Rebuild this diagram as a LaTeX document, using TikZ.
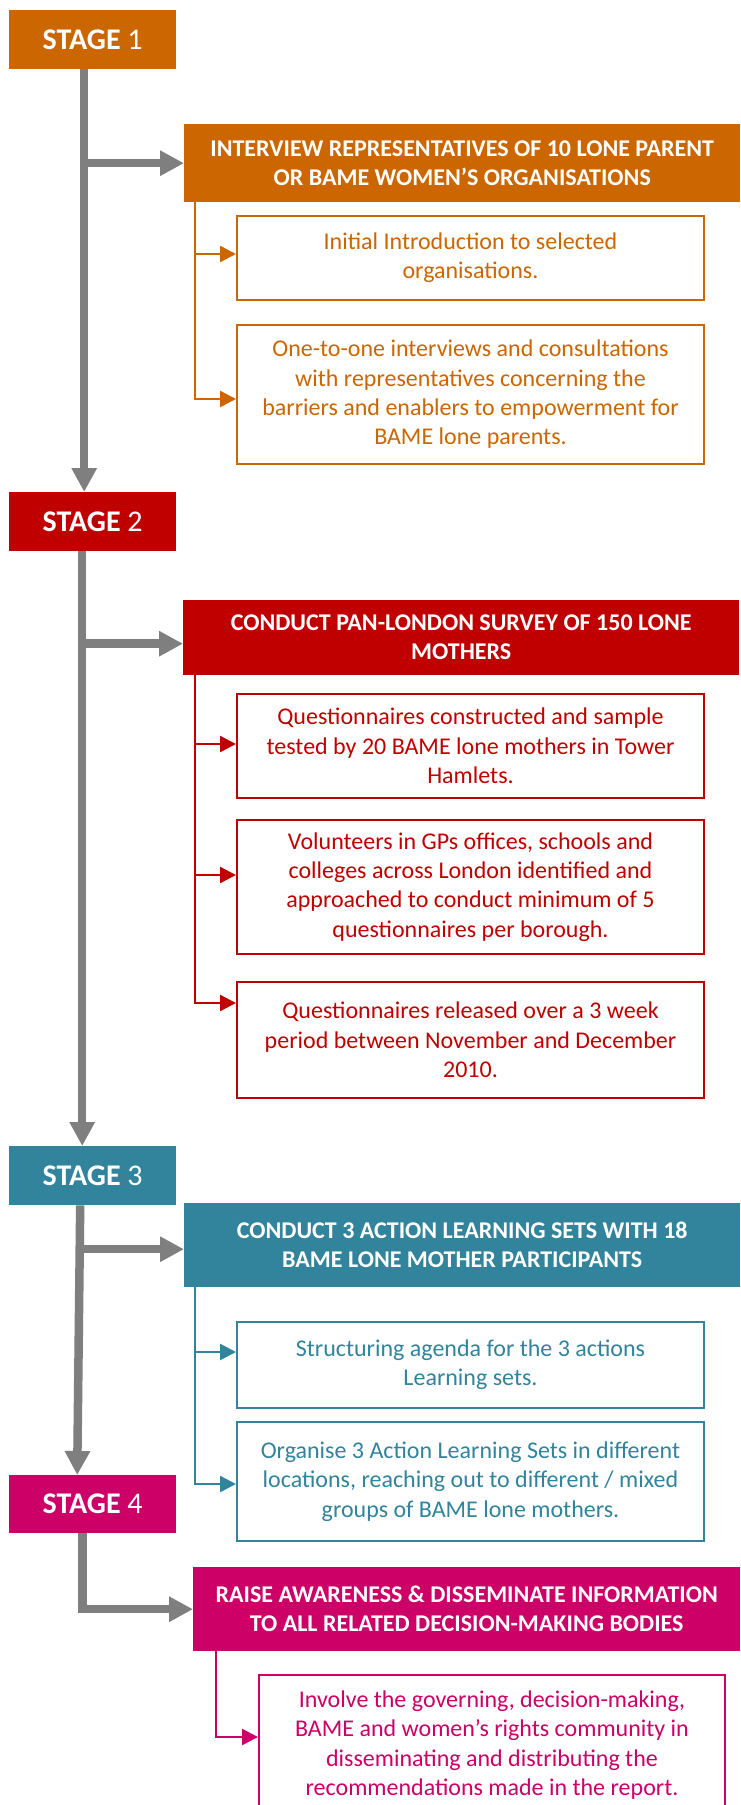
\documentclass[tikz,border=0pt]{standalone}
\usepackage{fontspec}
\setmainfont{Carlito}
\usepackage{xcolor}
\usepackage{tikz}
\usetikzlibrary{arrows.meta}

\definecolor{orangeS}{HTML}{CC6600}
\definecolor{redS}{HTML}{C00000}
\definecolor{tealS}{HTML}{31849B}
\definecolor{pinkS}{HTML}{CC0066}
\definecolor{grayS}{HTML}{7F7F7F}

\newcommand{\stagefont}{\fontsize{30}{35}\selectfont}
\newcommand{\headfont}{\fontsize{24}{29}\selectfont\bfseries}
\newcommand{\boxfont}{\fontsize{24}{29.3}\selectfont}

\begin{document}
\begin{tikzpicture}[x=1pt,y=-1pt,
  stagebox/.style={fill=#1,text=white,anchor=north west,inner sep=0pt,minimum width=167pt,minimum height=59pt,font=\stagefont},
  headbox/.style={fill=#1,text=white,anchor=north west,inner sep=0pt,minimum width=556pt,align=center,font=\headfont},
  textbox/.style={draw=#1,line width=2pt,text=#1,anchor=north west,inner sep=0pt,minimum width=467pt,align=center,font=\boxfont},
  trunk/.style={draw=grayS,line width=8.5pt,-{Triangle[length=24pt,width=24pt]}},
  feed/.style={draw=#1,line width=2.5pt,-{Triangle[length=16pt,width=16pt]}}]
  \path[use as bounding box,fill=white] (0,0) rectangle (740,1805);

  % Stage 1
  \node[stagebox=orangeS] (st1) at (9,10) {\textbf{STAGE} 1};
  \node[headbox=orangeS,minimum height=78pt] (hd1) at (184,124) {INTERVIEW REPRESENTATIVES OF 10 LONE PARENT\\OR BAME WOMEN’S ORGANISATIONS};
  \node[textbox=orangeS,minimum height=84pt] (b1a) at (236,215) {Initial Introduction to selected\\organisations.};
  \node[textbox=orangeS,minimum height=139pt] (b1b) at (236,324) {One-to-one interviews and consultations\\with representatives concerning the\\barriers and enablers to empowerment for\\BAME lone parents.};

  % Stage 2
  \node[stagebox=redS] (st2) at (9,492) {\textbf{STAGE} 2};
  \node[headbox=redS,minimum height=75pt] (hd2) at (183,600) {CONDUCT PAN-LONDON SURVEY OF 150 LONE\\MOTHERS};
  \node[textbox=redS,minimum height=104pt] (b2a) at (236,693) {Questionnaires constructed and sample\\tested by 20 BAME lone mothers in Tower\\Hamlets.};
  \node[textbox=redS,minimum height=134pt] (b2b) at (236,819) {Volunteers in GPs offices, schools and\\colleges across London identified and\\approached to conduct minimum of 5\\questionnaires per borough.};
  \node[textbox=redS,minimum height=116pt] (b2c) at (236,981) {Questionnaires released over a 3 week\\period between November and December\\2010.};

  % Stage 3
  \node[stagebox=tealS] (st3) at (9,1146) {\textbf{STAGE} 3};
  \node[headbox=tealS,minimum height=84pt] (hd3) at (184,1203) {CONDUCT 3 ACTION LEARNING SETS WITH 18\\BAME LONE MOTHER PARTICIPANTS};
  \node[textbox=tealS,minimum height=86pt] (b3a) at (236,1321) {Structuring agenda for the 3 actions\\Learning sets.};
  \node[textbox=tealS,minimum height=119pt] (b3b) at (236,1421) {Organise 3 Action Learning Sets in different\\locations, reaching out to different / mixed\\groups of BAME lone mothers.};

  % Stage 4
  \node[stagebox=pinkS,minimum height=58pt] (st4) at (9,1475) {\textbf{STAGE} 4};
  \node[headbox=pinkS,minimum width=547pt,minimum height=84pt] (hd4) at (193,1567) {RAISE AWARENESS \& DISSEMINATE INFORMATION\\TO ALL RELATED DECISION-MAKING BODIES};
  \node[textbox=pinkS,minimum width=466pt,minimum height=140pt] (b4) at (258,1674) {Involve the governing, decision-making,\\BAME and women’s rights community in\\disseminating and distributing the\\recommendations made in the report.};

  % Main line
  \coordinate (t1) at ([xshift=-8.5pt]st1.south);
  \coordinate (t2) at ([xshift=-10.5pt]st2.south);
  \coordinate (t3) at ([xshift=-12.5pt]st3.south);
  \coordinate (t4) at ([xshift=-10pt]st4.south);
  \draw[trunk] (t1) -- (t1 |- st2.north);
  \draw[trunk] (t1 |- hd1.west) -- (hd1.west);
  \draw[trunk] (t2) -- (t2 |- st3.north);
  \draw[trunk] (t2 |- hd2.west) ++(0,6) -- ([yshift=-6pt]hd2.west);
  \draw[trunk] (t3) -- ([xshift=-15.5pt]st4.north);
  \draw[trunk] (t3 |- hd3.west) ++(0,4) -- ([yshift=-4pt]hd3.west);
  \draw[trunk] (t4) |- (hd4.west);

  % Feeds
  \coordinate (s1) at ([xshift=11pt]hd1.south west);
  \coordinate (s2) at ([xshift=12pt]hd2.south west);
  \coordinate (s3) at ([xshift=11pt]hd3.south west);
  \coordinate (s4) at ([xshift=23pt]hd4.south west);
  \draw[feed=orangeS] (s1) |- ([yshift=4pt]b1a.west);
  \draw[feed=orangeS] (s1) |- ([yshift=-4.5pt]b1b.west);
  \draw[feed=redS] (s2) |- ([yshift=2pt]b2a.west);
  \draw[feed=redS] (s2) |- ([yshift=12pt]b2b.west);
  \draw[feed=redS] (s2) |- ([yshift=37pt]b2c.west);
  \draw[feed=tealS] (s3) |- ([yshift=13pt]b3a.west);
  \draw[feed=tealS] (s3) |- ([yshift=-2.5pt]b3b.west);
  \draw[feed=pinkS] (s4) |- ([yshift=8pt]b4.west);

\end{tikzpicture}
\end{document}
